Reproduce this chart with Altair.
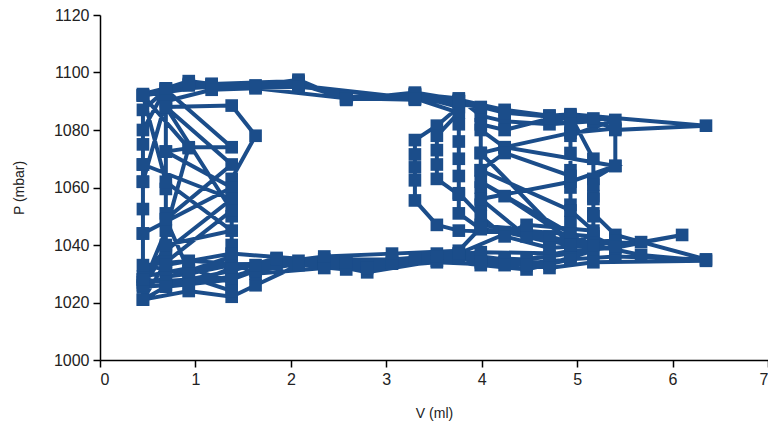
import altair as alt
import pandas as pd

# Volume (ml) and pressure (mbar) samples, in recording order
V = [
    0.45, 0.69, 0.93, 1.17, 1.63, 2.08, 2.58, 3.30, 3.76, 4.24, 4.71, 4.93, 6.35, 5.40, 5.40, 5.17, 5.17, 5.17, 5.40, 6.35,
    5.40, 4.93, 4.47, 3.99, 3.53, 2.80, 2.35, 1.85, 1.38, 0.93, 0.45, 0.45, 0.45, 0.45, 0.45, 0.45, 0.45,
    0.69, 1.17, 2.08, 2.58, 3.30, 3.76, 3.53, 3.30, 3.30, 3.30, 3.30, 3.30, 3.53, 3.76, 4.24, 4.71, 5.17, 5.67, 6.10,
    5.40, 4.93, 4.47, 3.99, 3.53, 3.06, 2.58, 2.08, 1.63, 1.38, 0.93, 0.45, 0.45, 0.69, 0.69, 0.69, 0.69, 0.69,
    1.38, 1.63, 1.38, 1.38, 1.38, 1.38,
    0.93, 0.45, 0.45, 1.38, 0.69, 0.93, 0.45, 0.93, 1.63, 2.08, 3.30, 3.76, 3.53, 3.53, 3.53, 3.53, 3.76, 3.76, 3.99,
    4.71, 4.93, 5.40, 4.93, 3.99, 3.06, 2.35, 1.85, 1.38, 0.69, 0.45,
    0.69, 1.38, 0.45, 0.45, 0.69, 1.17, 2.08, 2.58, 3.30, 3.76, 3.99, 4.24, 4.71, 5.17, 5.40, 4.93, 4.24, 3.99, 3.99,
    3.99, 3.99, 3.99, 3.99, 4.47, 5.17, 5.40, 4.71, 4.24, 3.76, 3.06, 2.35, 1.63, 1.38, 0.93, 0.45,
    0.69, 0.93, 1.38, 0.69, 0.45, 1.17, 1.63, 2.58, 3.30, 3.76, 4.24, 4.93, 5.17, 5.40, 4.93, 4.93, 4.93, 4.93, 4.93,
    4.93, 4.93, 4.24, 3.99, 4.93, 5.17, 4.71, 4.47, 3.99, 3.53, 2.80, 2.08, 1.38, 0.93, 0.69,
    0.69, 1.38, 0.69, 0.45, 0.93, 2.08, 2.58, 3.30, 3.76, 3.76, 3.76, 3.76, 3.76, 3.76, 3.99, 4.24, 4.71, 5.17, 5.67,
    6.35, 5.17, 4.71, 4.24, 3.76, 3.30, 2.58, 1.85, 1.38, 0.93, 0.45,
    0.45, 0.69, 1.17, 2.08, 3.30, 3.99, 4.71, 4.93, 5.17, 5.17, 5.17, 5.17, 5.17, 4.93, 3.99, 4.24, 5.40, 4.93, 3.99,
    4.47, 4.93, 4.93, 4.24, 3.53, 2.80, 2.08, 1.63, 1.38, 0.69, 0.45,
    0.69, 1.38, 0.69, 1.38, 0.69, 0.93, 1.38, 1.38, 0.69, 0.45, 0.93, 1.63, 2.35, 3.06, 3.76, 3.99, 3.99, 4.24, 4.71,
    4.93, 4.93, 4.24, 3.99, 4.93, 5.17, 4.47, 3.76, 3.53, 2.58, 1.38, 0.69,
]
P = [
    1092.5, 1094.5, 1097.0, 1096.0, 1095.5, 1097.5, 1090.5, 1093.0, 1090.5, 1087.0, 1085.0, 1085.5, 1081.5, 1080.0, 1067.5, 1063.0, 1057.0, 1051.0, 1043.5, 1035.0,
    1036.0, 1035.0, 1031.5, 1033.0, 1034.5, 1030.5, 1033.5, 1035.5, 1031.0, 1028.0, 1027.0, 1044.0, 1052.5, 1062.0, 1068.0, 1075.0, 1087.0,
    1094.0, 1095.0, 1096.5, 1091.5, 1092.0, 1088.0, 1081.5, 1076.5, 1071.5, 1067.0, 1062.5, 1055.5, 1047.0, 1045.0, 1044.5, 1041.0, 1040.5, 1041.0, 1043.5,
    1039.0, 1038.0, 1035.0, 1035.5, 1036.0, 1034.0, 1031.5, 1033.0, 1026.0, 1022.0, 1024.0, 1021.0, 1028.0, 1039.0, 1051.0, 1059.5, 1072.5, 1088.0,
    1088.5, 1078.0, 1063.0, 1050.0, 1040.0, 1027.0,
    1032.0, 1029.0, 1044.0, 1060.0, 1072.5, 1073.7, 1092.0, 1096.0, 1095.0, 1095.5, 1091.0, 1086.0, 1078.0, 1073.0, 1068.0, 1063.0, 1057.5, 1051.0, 1045.5,
    1043.0, 1041.0, 1041.5, 1037.0, 1037.5, 1035.0, 1035.0, 1033.5, 1029.0, 1026.0, 1025.5,
    1038.0, 1056.0, 1068.0, 1080.0, 1094.5, 1096.0, 1097.0, 1090.5, 1092.5, 1091.0, 1085.0, 1083.0, 1082.0, 1083.0, 1080.5, 1079.0, 1074.0, 1080.0, 1072.0,
    1066.0, 1060.0, 1054.0, 1047.0, 1045.0, 1043.0, 1039.5, 1036.0, 1034.0, 1035.5, 1033.5, 1032.0, 1030.0, 1034.0, 1031.0, 1026.0,
    1045.0, 1074.0, 1074.0, 1094.0, 1092.0, 1095.5, 1094.5, 1091.0, 1090.5, 1090.0, 1086.0, 1084.0, 1084.0, 1083.5, 1078.0, 1072.0, 1066.0, 1060.0, 1054.0,
    1048.0, 1042.0, 1057.0, 1062.0, 1044.0, 1038.0, 1033.5, 1033.0, 1034.0, 1037.0, 1033.0, 1034.5, 1033.0, 1030.0, 1029.0,
    1040.0, 1045.0, 1062.0, 1092.0, 1095.5, 1096.0, 1091.0, 1092.5, 1090.0, 1082.0, 1076.0, 1070.0, 1064.0, 1058.0, 1050.0, 1043.0, 1039.0, 1040.0, 1036.5,
    1034.5, 1034.0, 1032.0, 1035.0, 1037.0, 1035.5, 1034.0, 1035.0, 1032.0, 1026.0, 1028.0,
    1062.0, 1090.0, 1094.0, 1095.0, 1091.0, 1088.0, 1085.0, 1085.0, 1070.0, 1061.0, 1056.0, 1050.0, 1044.0, 1040.0, 1072.0, 1074.0, 1067.5, 1062.0, 1056.0,
    1043.0, 1040.0, 1035.0, 1033.0, 1034.0, 1032.0, 1033.5, 1031.0, 1028.0, 1025.5, 1021.0,
    1034.0, 1052.0, 1088.0, 1068.0, 1049.0, 1031.0, 1036.0, 1024.0, 1031.5, 1033.0, 1034.5, 1033.0, 1036.0, 1037.0, 1038.0, 1046.0, 1082.0, 1080.0, 1084.0,
    1082.0, 1064.0, 1072.0, 1066.0, 1052.0, 1045.0, 1047.0, 1037.0, 1036.0, 1034.0, 1037.0, 1033.0,
]

X_TICKS = [0, 1, 2, 3, 4, 5, 6, 7]
Y_TICKS = [1000, 1020, 1040, 1060, 1080, 1100, 1120]

n = min(len(V), len(P))
df = pd.DataFrame({"i": list(range(n)), "V": V[:n], "P": P[:n]})

COLOR = "#1b4d8a"
W, H = 668, 345

x = alt.X("V:Q", scale=alt.Scale(domain=[0, 7], nice=False),
          axis=alt.Axis(values=X_TICKS, format="d", title="V (ml)", grid=False, tickSize=7,
                        labelPadding=4, titleX=W / 2, titleY=53, titleBaseline="middle"))
y = alt.Y("P:Q", scale=alt.Scale(domain=[1000, 1120], nice=False),
          axis=alt.Axis(values=Y_TICKS, format="d", title="P (mbar)", grid=False, tickSize=7,
                        labelPadding=4, titleX=-81, titleY=H / 2, titleBaseline="middle"))

base = alt.Chart(df)
line = base.mark_line(color=COLOR, strokeWidth=4, strokeJoin="miter").encode(
    x=x, y=y, order=alt.Order("i:Q"))
pts = base.mark_square(color=COLOR, size=160, opacity=1, filled=True).encode(x=x, y=y)

chart = (line + pts).properties(
    width=W, height=H,
    autosize=alt.AutoSizeParams(type="none"),
    padding={"left": 92, "top": 7, "right": 0, "bottom": 62},
).configure_view(stroke=None).configure_axis(
    domainColor="black", domainWidth=1.5, tickColor="black", tickWidth=1.5,
    labelFont="Liberation Sans", labelFontSize=16, labelColor="#222",
    titleFont="Liberation Sans", titleFontSize=14, titleFontWeight="normal", titleColor="#222",
)

chart.save("out.html", embed_options={"renderer": "svg", "actions": False})
